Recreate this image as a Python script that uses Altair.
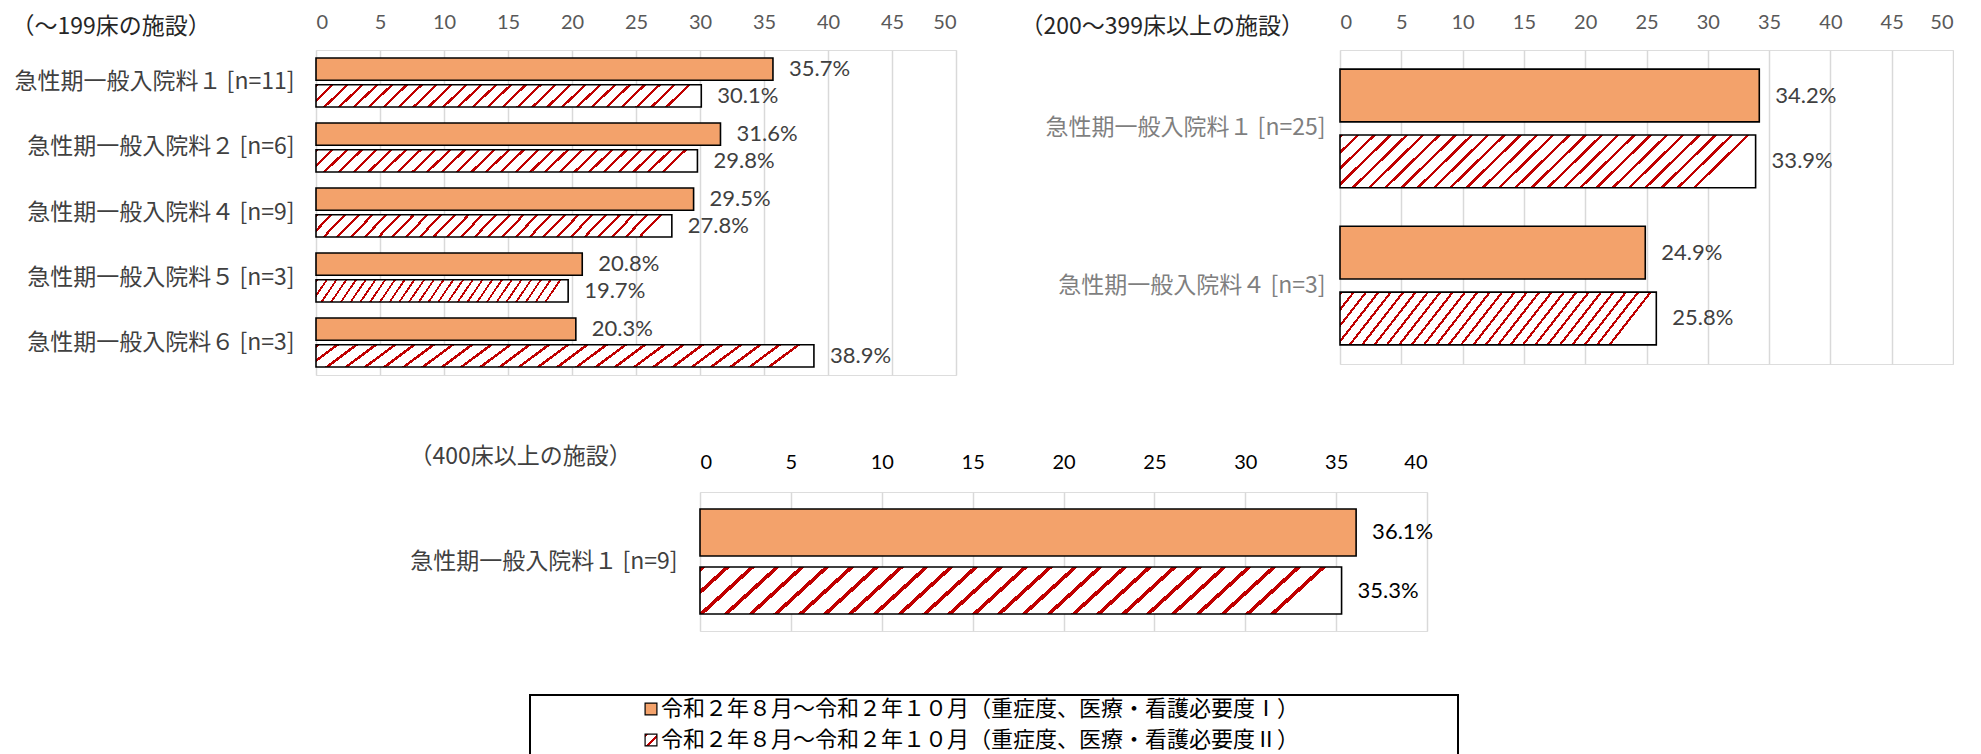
import altair as alt
import pandas as pd

# ---------------- data ----------------
series_names = [
    "令和２年８月～令和２年１０月（重症度、医療・看護必要度Ⅰ）",
    "令和２年８月～令和２年１０月（重症度、医療・看護必要度Ⅱ）",
]

title_a = "（～199床の施設）"
cats_a = [
    "急性期一般入院料１ [n=11]",
    "急性期一般入院料２ [n=6]",
    "急性期一般入院料４ [n=9]",
    "急性期一般入院料５ [n=3]",
    "急性期一般入院料６ [n=3]",
]
vals_a_1 = [35.7, 31.6, 29.5, 20.8, 20.3]
vals_a_2 = [30.1, 29.8, 27.8, 19.7, 38.9]

title_b = "（200～399床以上の施設）"
cats_b = ["急性期一般入院料１ [n=25]", "急性期一般入院料４ [n=3]"]
vals_b_1 = [34.2, 24.9]
vals_b_2 = [33.9, 25.8]

title_c = "（400床以上の施設）"
cats_c = ["急性期一般入院料１ [n=9]"]
vals_c_1 = [36.1]
vals_c_2 = [35.3]

ticks_50 = [0, 5, 10, 15, 20, 25, 30, 35, 40, 45, 50]
ticks_40 = [0, 5, 10, 15, 20, 25, 30, 35, 40]

# ---------------- style ----------------
JP = "Noto Sans CJK JP"
NUM = "Lato"
ORANGE = "#F3A26B"
RED = "#C00000"


def stripes(n, tilt, frac=0.22):
    stops = []
    for i in range(n):
        a = round(i / n, 5)
        b = round((i + frac) / n, 5)
        c = round((i + 1) / n, 5)
        stops += [
            alt.GradientStop(color=RED, offset=a),
            alt.GradientStop(color=RED, offset=b),
            alt.GradientStop(color="#FFFFFF", offset=b),
            alt.GradientStop(color="#FFFFFF", offset=c),
        ]
    return alt.LinearGradient(gradient="linear", stops=stops, x1=0, y1=0, x2=1, y2=tilt)


def table(cats, v1, v2, key):
    rows = []
    for c, a, b in zip(cats, v1, v2):
        rows.append({"cat_" + key: c, "ser_" + key: series_names[0], "val_" + key: a,
                     "label": f"{a:.1f}%"})
        rows.append({"cat_" + key: c, "ser_" + key: series_names[1], "val_" + key: b,
                     "label": f"{b:.1f}%"})
    return pd.DataFrame(rows)


def panel(key, cats, v1, v2, title, title_x, title_y, width, height, tick_vals, xmax,
          label_color, title_color, axis_color, num_color, tilt, label_pad, axis_pad, off_pad):
    df = table(cats, v1, v2, key)
    y = alt.Y(
        f"cat_{key}:N", sort=cats,
        scale=alt.Scale(domain=cats, paddingInner=0.245, paddingOuter=0.122),
        axis=alt.Axis(
            title=title, titleAngle=0, titleX=title_x, titleY=title_y,
            titleAlign="left", titleBaseline="middle", titleFont=JP, titleFontSize=23,
            titleFontWeight="normal", titleColor=title_color,
            labelFont=JP, labelFontSize=23, labelColor=label_color, labelPadding=label_pad,
            labelLimit=600, domain=False, ticks=False,
        ),
    )
    yoff = alt.YOffset(f"ser_{key}:N", sort=series_names,
                       scale=alt.Scale(domain=series_names, paddingInner=off_pad))
    x = alt.X(
        f"val_{key}:Q", scale=alt.Scale(domain=[0, xmax], nice=False, zero=True),
        axis=alt.Axis(
            orient="top", values=tick_vals, grid=True, gridColor="#D9D9D9", gridWidth=1.5,
            domain=False, ticks=False, tickSize=0, labelFont=NUM, labelFontSize=20,
            labelColor=axis_color, labelPadding=axis_pad, title=None,
        ),
    )
    base = alt.Chart(df).encode(y=y, yOffset=yoff, x=x)
    sfield = alt.datum["ser_" + key]
    bar1 = base.transform_filter(sfield == series_names[0]).mark_bar(
        fill=ORANGE, stroke="black", strokeWidth=1.6)
    bar2 = base.transform_filter(sfield == series_names[1]).mark_bar(
        fill=stripes(26, tilt), stroke="black", strokeWidth=1.6)
    text = base.mark_text(align="left", baseline="middle", dx=16, font=NUM,
                          fontSize=22, color=num_color).encode(text="label:N")
    return alt.layer(bar1, bar2, text).properties(width=width, height=height)


def spacer(w):
    return alt.Chart(pd.DataFrame({"v": [0]})).mark_text(text="").encode(
        x=alt.value(0), y=alt.value(0)).properties(
        width=w, height=10, view=alt.ViewBackground(fill="#FFFFFF", strokeWidth=0))


IND = dict(x="independent", y="independent", yOffset="independent")

panel_a = panel("a", cats_a, vals_a_1, vals_a_2, title_a, -305, -24, 640, 325, ticks_50, 50,
                "#404040", "#262626", "#595959", "#404040", 0.06, 22, 18, 0.17)
panel_b = panel("b", cats_b, vals_b_1, vals_b_2, title_b, -320, -24, 613, 314, ticks_50, 50,
                "#7F7F7F", "#262626", "#595959", "#404040", 0.13, 15, 18, 0.2)
panel_c = panel("c", cats_c, vals_c_1, vals_c_2, title_c, -291, -36, 727, 139, ticks_40, 40,
                "#404040", "#404040", "#000000", "#000000", 0.08, 23, 20, 0.19)

# ---------------- legend box ----------------
leg_df = pd.DataFrame({"series": series_names})
ly = alt.Y("series:N", sort=series_names,
           scale=alt.Scale(type="point", domain=series_names, range=[14, 45], padding=0),
           axis=None)
sym1 = alt.Chart(leg_df).transform_filter(alt.datum.series == series_names[0]).mark_square(
    size=140, filled=True, fill=ORANGE, stroke="black", strokeWidth=1.2, opacity=1).encode(
    y=ly, x=alt.value(121))
sym2 = alt.Chart(leg_df).transform_filter(alt.datum.series == series_names[1]).mark_square(
    size=140, filled=True, fill=stripes(2, 1.0, 0.3), stroke="black", strokeWidth=1.2,
    opacity=1).encode(y=ly, x=alt.value(121))
ltxt = alt.Chart(leg_df).mark_text(align="left", baseline="middle", font=JP, fontSize=22,
                                   color="#000000").encode(y=ly, x=alt.value(131), text="series:N")
legend = alt.layer(sym1, sym2, ltxt).properties(
    width=928, height=62, view=alt.ViewBackground(stroke="black", strokeWidth=2))

row1 = alt.hconcat(spacer(308), alt.hconcat(panel_a, panel_b, spacing=384, bounds="flush"
                                            ).resolve_scale(**IND),
                   spacing=0, bounds="flush").resolve_scale(**IND)
row2 = alt.hconcat(spacer(692), panel_c, spacing=0, bounds="flush").resolve_scale(**IND)
row3 = alt.hconcat(spacer(522), legend, spacing=0, bounds="flush").resolve_scale(**IND)
upper = alt.vconcat(row1, row2, spacing=68).resolve_scale(**IND)

chart = alt.vconcat(upper, row3, spacing=57).resolve_scale(**IND).properties(
    padding={"left": 0, "top": 3, "right": 0, "bottom": 0}
).configure_view(strokeWidth=0).configure(background="white")

chart.save("out.html", embed_options={"renderer": "svg", "actions": False})
